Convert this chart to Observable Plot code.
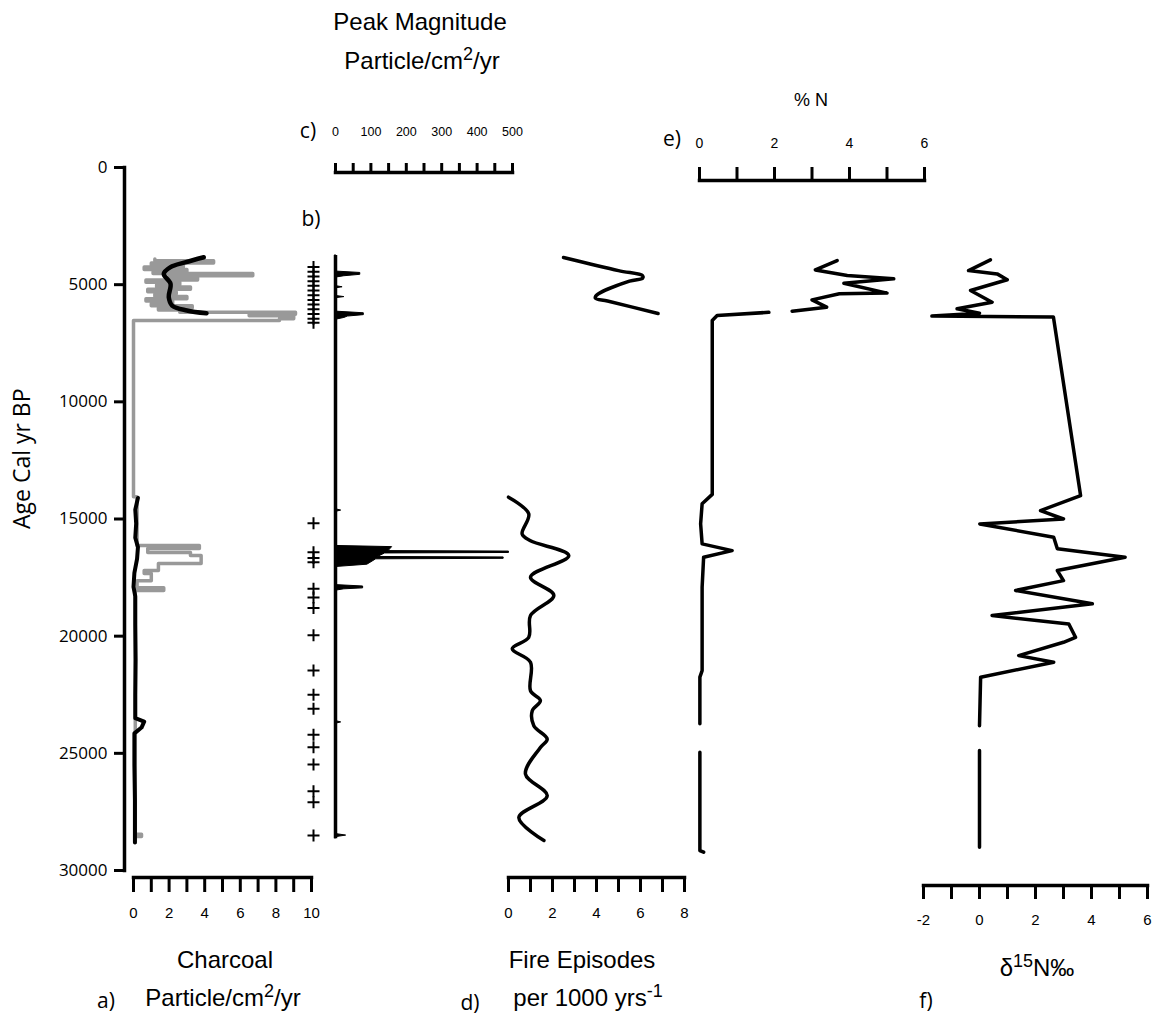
<!DOCTYPE html>
<html><head><meta charset="utf-8">
<script src="https://cdn.jsdelivr.net/npm/d3@7"></script>
<script src="https://cdn.jsdelivr.net/npm/@observablehq/plot@0.6"></script>
<style>
body{margin:0;background:#fff;}
#chart{position:relative;width:1154px;height:1021px;overflow:hidden;background:#fff;}
.t{position:absolute;transform:translate(-50%,-50%);white-space:nowrap;color:#000;line-height:1;}
.n{font-family:"Liberation Sans Narrow","Arial Narrow","Liberation Sans",sans-serif;}
.o{font-family:"Open Sans",sans-serif;}
sup{font-size:0.75em;vertical-align:0.5em;line-height:0;}
</style></head><body><div id="chart"></div>
<script>
// ---------- data ----------
const ageTicks = [0, 5000, 10000, 15000, 20000, 25000, 30000];

// a) charcoal accumulation (grey raw series, step)
const charcoalRawAge = [3900, 3980, 4080, 4150, 4250, 4350, 4450, 4520, 4620, 4700, 4800, 4900, 5000, 5100, 5200, 5300, 5400, 5500, 5600, 5700, 5800, 5900, 6000, 6080, 6180, 6260, 6330, 6450, 6530,
  14050, 16130, 16260, 16430, 16560, 16900, 17200, 17330, 17630, 17930, 18050, 28450, 28550, 28800];
const charcoalRawVal = [1.2, 4.5, 1.0, 2.8, 0.6, 3.0, 1.1, 6.7, 2.0, 3.6, 0.7, 2.6, 1.3, 3.2, 0.8, 2.4, 1.2, 3.0, 0.7, 2.2, 1.0, 3.3, 1.4, 2.6, 9.1, 6.5, 9.0, 8.2, 0.0,
  0.2, 3.7, 0.8, 3.2, 3.8, 1.4, 0.6, 1.0, 0.2, 1.7, 0.1, 0.45, 0.1, 0.1];
// a) background (black smoothed series)
const charcoalBgTopAge = [3830, 4050, 4250, 4540, 4960, 5530, 5890, 6100, 6220];
const charcoalBgTopVal = [3.95, 2.9, 2.08, 1.7, 2.08, 1.98, 2.17, 3.0, 4.1];
const charcoalBgLowAge = [14100, 14600, 15200, 15800, 16200, 16700, 17300, 17900, 18300, 19500, 21000, 22500, 23500, 23650, 23900, 24150, 25500, 27000, 28800];
const charcoalBgLowVal = [0.25, 0.1, 0.15, 0.1, 0.25, 0.2, 0.05, 0.0, 0.1, 0.1, 0.12, 0.1, 0.1, 0.6, 0.45, 0.05, 0.05, 0.08, 0.08];
const charcoalTicks = [0, 1, 2, 3, 4, 5, 6, 7, 8, 9, 10];
const charcoalLabels = [0, 2, 4, 6, 8, 10];

// b) fire events
const fireEventAge = [4250, 4450, 4650, 4850, 5050, 5250, 5450, 5650, 5850, 6050, 6250, 6450, 6620,
  15180, 16420, 16660, 16850, 17980, 18350, 18800, 19960, 21470, 22500, 23100, 24210, 24740, 25480, 26620, 27090, 28510];

// c) peak magnitude
const peakAge = [3750, 4440, 4500, 4580, 4640, 4700, 5060, 5110, 5160, 5480, 5530, 5580, 6150, 6220, 6300, 6360, 6420, 6500,
  14580, 14640, 14700, 16150, 16200, 16370, 16390, 16450, 16470, 16620, 16640, 16700, 16720, 16950, 17050,
  17820, 17880, 17960, 18000, 18060, 23620, 23680, 23740, 28440, 28510, 28580, 28650];
const peakVal = [0, 0, 70, 70, 25, 0, 0, 20, 0, 0, 25, 0, 0, 80, 80, 35, 25, 0,
  0, 16, 0, 0, 160, 150, 490, 490, 140, 120, 475, 475, 115, 90, 0,
  0, 78, 78, 25, 0, 0, 16, 0, 0, 30, 0, 0];
const peakTicks = [0, 50, 100, 150, 200, 250, 300, 350, 400, 450, 500];
const peakLabels = [0, 100, 200, 300, 400, 500];

// d) fire frequency
const fireFreqTopAge = [3840, 4400, 4620, 4720, 4850, 5450, 5580, 5700, 6230];
const fireFreqTopVal = [2.5, 5.0, 6.1, 6.1, 5.5, 4.0, 3.95, 4.5, 6.8];
const fireFreqLowAge = [14070, 14780, 15640, 15930, 16560, 17480, 18260, 19120, 20050, 20540, 21110, 22330, 22750, 23180, 23820, 24390, 24750, 25880, 26810, 27740, 28720];
const fireFreqLowVal = [0, 0.92, 0.62, 1.0, 2.74, 1.0, 2.06, 1.0, 0.92, 0.17, 1.0, 1.0, 1.45, 1.08, 1.15, 1.76, 1.45, 0.77, 1.76, 0.47, 1.61];
const fireFreqTicks = [0, 1, 2, 3, 4, 5, 6, 7, 8];
const fireFreqLabels = [0, 2, 4, 6, 8];

// e) % N
const nitrogenAge = [3970, 4370, 4610, 4750, 4940, 5360, 5390, 5650, 5960, 6130, 6150, 6180, 6320, 6530, 13950, 14350, 15210, 16060, 16350, 16630, 17910, 21470, 21750, 23740, 23800, 24950, 29150, 29220];
const nitrogenVal = [3.67, 3.09, 3.94, 5.18, 3.85, 5.0, 3.73, 3.0, 3.39, 2.47, null, 1.85, 0.47, 0.34, 0.34, 0.07, 0.03, 0.07, 0.87, 0.11, 0.07, 0.07, 0.01, 0.01, null, 0.01, 0.01, 0.11];
const nitrogenTicks = [0, 1, 2, 3, 4, 5, 6];
const nitrogenLabels = [0, 2, 4, 6];

// f) d15N
const isotopeAge = [3940, 4400, 4540, 4790, 5250, 5750, 6030, 6220, 6340, 6380, 14000, 14640, 15000, 15210, 15780, 16270, 16630, 17200, 17630, 18050, 18620, 19120, 19480, 20050, 20260, 20830, 21110, 21750, 23820, 23850, 24880, 29010];
const isotopeVal = [0.39, -0.39, 0.63, 0.99, -0.32, 0.45, -0.8, 0, -1.7, 2.64, 3.61, 2.18, 3.0, 0.01, 2.65, 2.78, 5.2, 2.78, 3.0, 1.29, 4.03, 0.45, 3.19, 3.43, 3.0, 1.40, 2.65, 0.04, 0, null, 0, 0];
const isotopeTicks = [-2, -1, 0, 1, 2, 3, 4, 5, 6];
const isotopeLabels = [-2, 0, 2, 4, 6];

// ---------- layout ----------
const W = 1154, H = 1021;
const chart = document.getElementById("chart");
const NARROW = '"Liberation Sans Narrow","Arial Narrow","Liberation Sans",sans-serif';
const svgStyle = (size, family = NARROW) => ({background: "transparent", position: "absolute", left: "0px", top: "0px", overflow: "visible", fontFamily: family, fontSize: size + "px"});
const Y = {domain: [0, 30000], range: [167, 870], axis: null};
const fmt = (labels) => (d) => labels.includes(d) ? String(d) : "";
function add(p) { chart.appendChild(p); }

// age axis
add(Plot.plot({
  width: W, height: H, marginLeft: 124, marginRight: W - 130, marginTop: 167, marginBottom: H - 870,
  style: svgStyle(17, '"Open Sans",sans-serif'),
  y: {domain: [0, 30000], range: [167, 870]},
  marks: [
    Plot.frame({anchor: "left", strokeWidth: 3.5}),
    Plot.axisY(ageTicks, {anchor: "left", tickSize: 10, strokeWidth: 3, tickPadding: 7, fontSize: 17, tickFormat: (d) => String(d), label: null}),
    Plot.text(["Age Cal yr BP"], {frameAnchor: "left", rotate: -90, dx: -102, dy: 10, fontSize: 23})
  ]
}));

// a) charcoal
add(Plot.plot({
  width: W, height: H, marginLeft: 133, marginRight: W - 311, marginTop: 167, marginBottom: H - 877,
  style: svgStyle(15), x: {domain: [0, 10]}, y: Y,
  marks: [
    Plot.line(charcoalRawAge, {x: charcoalRawVal, y: charcoalRawAge, curve: "step-before", stroke: "#999", strokeWidth: 3.5}),
    Plot.line(charcoalBgTopAge, {x: charcoalBgTopVal, y: charcoalBgTopAge, curve: "catmull-rom", stroke: "black", strokeWidth: 4.5}),
    Plot.line(charcoalBgLowAge, {x: charcoalBgLowVal, y: charcoalBgLowAge, stroke: "black", strokeWidth: 4}),
    Plot.frame({anchor: "bottom", strokeWidth: 3.5}),
    Plot.axisX(charcoalTicks, {anchor: "bottom", tickSize: 15, strokeWidth: 3, tickPadding: 15, fontSize: 15, tickFormat: fmt(charcoalLabels), label: null})
  ]
}));

// b) fire events
const plusSymbol = {draw(ctx, size) { const r = Math.sqrt(size / Math.PI); ctx.moveTo(-r, 0); ctx.lineTo(r, 0); ctx.moveTo(0, -r); ctx.lineTo(0, r); }};
add(Plot.plot({
  width: W, height: H, marginLeft: 307, marginRight: W - 319, marginTop: 167, marginBottom: H - 870,
  style: svgStyle(15), y: Y,
  marks: [
    Plot.dot(fireEventAge, {y: (d) => d, symbol: plusSymbol, r: 6, stroke: "black", strokeWidth: 2, fill: "none"})
  ]
}));

// c) peak magnitude
add(Plot.plot({
  width: W, height: H, marginLeft: 335, marginRight: W - 512, marginTop: 172, marginBottom: H - 870,
  style: svgStyle(12.5), x: {domain: [0, 500]}, y: Y,
  marks: [
    Plot.areaX(peakAge, {x: peakVal, y: peakAge, fill: "black", stroke: "black", strokeWidth: 1}),
    Plot.ruleX([0], {y1: d3.min(peakAge), y2: d3.max(peakAge), strokeWidth: 3.5}),
    Plot.frame({anchor: "top", strokeWidth: 3.5}),
    Plot.axisX(peakTicks, {anchor: "top", tickSize: 10, strokeWidth: 3, tickPadding: 27, fontSize: 12.5, tickFormat: fmt(peakLabels), label: null})
  ]
}));

// d) fire frequency
add(Plot.plot({
  width: W, height: H, marginLeft: 508, marginRight: W - 684, marginTop: 167, marginBottom: H - 877,
  style: svgStyle(15), x: {domain: [0, 8]}, y: Y,
  marks: [
    Plot.line(fireFreqTopAge, {x: fireFreqTopVal, y: fireFreqTopAge, curve: "catmull-rom", stroke: "black", strokeWidth: 3.5}),
    Plot.line(fireFreqLowAge, {x: fireFreqLowVal, y: fireFreqLowAge, curve: "catmull-rom", stroke: "black", strokeWidth: 3.5}),
    Plot.frame({anchor: "bottom", strokeWidth: 3.5}),
    Plot.axisX(fireFreqTicks, {anchor: "bottom", tickSize: 15, strokeWidth: 3, tickPadding: 15, fontSize: 15, tickFormat: fmt(fireFreqLabels), label: null})
  ]
}));

// e) % N
add(Plot.plot({
  width: W, height: H, marginLeft: 699, marginRight: W - 924, marginTop: 180, marginBottom: H - 870,
  style: svgStyle(14), x: {domain: [0, 6]}, y: Y,
  marks: [
    Plot.line(nitrogenAge, {x: nitrogenVal, y: nitrogenAge, stroke: "black", strokeWidth: 3.5, strokeLinejoin: "round"}),
    Plot.frame({anchor: "top", strokeWidth: 3.5}),
    Plot.axisX(nitrogenTicks, {anchor: "top", tickSize: 14, strokeWidth: 3, tickPadding: 19, fontSize: 14, tickFormat: fmt(nitrogenLabels), label: null})
  ]
}));

// f) d15N
add(Plot.plot({
  width: W, height: H, marginLeft: 923, marginRight: W - 1147, marginTop: 167, marginBottom: H - 885,
  style: svgStyle(15), x: {domain: [-2, 6]}, y: Y,
  marks: [
    Plot.line(isotopeAge, {x: isotopeVal, y: isotopeAge, stroke: "black", strokeWidth: 3.5, strokeLinejoin: "round"}),
    Plot.frame({anchor: "bottom", strokeWidth: 3.5}),
    Plot.axisX(isotopeTicks, {anchor: "bottom", tickSize: 14, strokeWidth: 3, tickPadding: 15, fontSize: 15, tickFormat: fmt(isotopeLabels), label: null})
  ]
}));

// ---------- texts ----------
const texts = [
  ["Peak Magnitude", 420, 22, 24, "n"],
  ["Particle/cm<sup>2</sup>/yr", 422, 61, 24, "n"],
  ["c)", 308, 130, 21, "o"],
  ["b)", 311, 218, 21, "o"],
  ["% N", 811, 100, 18, "n"],
  ["e)", 672, 138, 21, "o"],
  ["Charcoal", 225, 960, 24, "n"],
  ["a)", 106, 1000, 21, "o"],
  ["Particle/cm<sup>2</sup>/yr", 223, 998, 24, "n"],
  ["Fire Episodes", 582, 960, 24, "n"],
  ["d)", 470, 1002, 21, "o"],
  ["per 1000 yrs<sup>-1</sup>", 588, 998, 24, "n"],
  ["δ<sup>15</sup>N‰", 1037, 968, 24, "n"],
  ["f)", 926, 1000, 21, "o"]
];
for (const [html, x, y, size, cls] of texts) {
  const d = document.createElement("div");
  d.className = "t " + cls;
  d.style.left = x + "px"; d.style.top = y + "px"; d.style.fontSize = size + "px";
  d.innerHTML = html;
  chart.appendChild(d);
}
</script></body></html>
